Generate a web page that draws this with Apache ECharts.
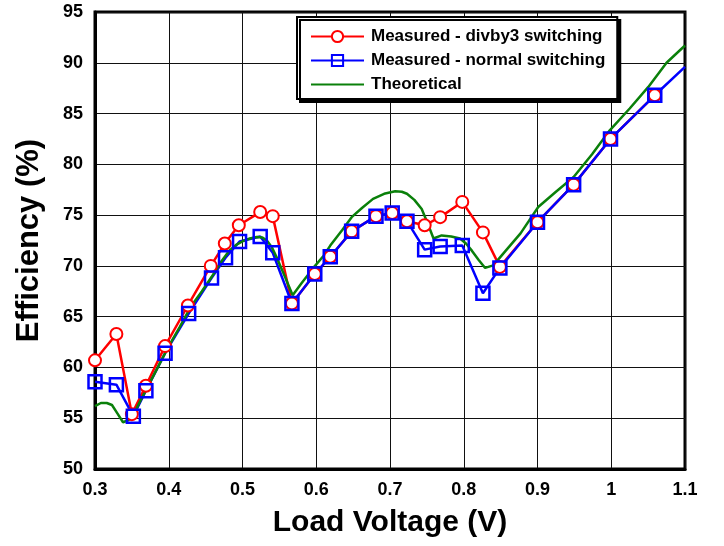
<!DOCTYPE html>
<html>
<head>
<meta charset="utf-8">
<script src="https://cdn.jsdelivr.net/npm/echarts@6/dist/echarts.min.js"></script>
<style>
  html, body { margin: 0; padding: 0; background: #fff; }
  #chart { width: 724px; height: 546px; }
</style>
</head>
<body>
<div id="chart"></div>
<script>
// Measured - divby3 switching
var xDiv = [0.30, 0.329, 0.350, 0.369, 0.395, 0.426, 0.457, 0.476, 0.495, 0.524, 0.541, 0.567, 0.598, 0.619, 0.648, 0.681, 0.703, 0.723, 0.747, 0.768, 0.798, 0.826, 0.849, 0.900, 0.949, 0.999, 1.059];
var yDiv = [60.7, 63.3, 55.4, 58.2, 62.1, 66.1, 70.0, 72.2, 74.0, 75.3, 74.9, 66.3, 69.2, 70.9, 73.4, 74.9, 75.2, 74.4, 74.0, 74.8, 76.3, 73.3, 69.9, 74.3, 78.0, 82.5, 86.8];

// Measured - normal switching
var xNorm = [0.30, 0.329, 0.352, 0.369, 0.395, 0.427, 0.458, 0.477, 0.496, 0.524, 0.541, 0.567, 0.598, 0.619, 0.648, 0.681, 0.703, 0.723, 0.747, 0.768, 0.798, 0.826, 0.849, 0.900, 0.949, 0.999, 1.059, 1.10];
var yNorm = [58.6, 58.3, 55.2, 57.7, 61.4, 65.3, 68.8, 70.8, 72.4, 72.9, 71.3, 66.3, 69.2, 70.9, 73.4, 74.9, 75.2, 74.4, 71.6, 71.9, 72.0, 67.3, 69.8, 74.3, 78.0, 82.5, 86.8, 89.6];

// Theoretical
var xTh = [0.30, 0.308, 0.316, 0.323, 0.331, 0.338, 0.345, 0.350, 0.36, 0.38, 0.40, 0.415, 0.43, 0.445, 0.458, 0.47, 0.482, 0.492, 0.501, 0.51, 0.519, 0.527, 0.533, 0.540, 0.546, 0.556, 0.568, 0.58, 0.596, 0.61, 0.619, 0.635, 0.648, 0.662, 0.677, 0.692, 0.707, 0.716, 0.723, 0.733, 0.743, 0.751, 0.759, 0.770, 0.783, 0.795, 0.803, 0.811, 0.820, 0.829, 0.840, 0.857, 0.877, 0.901, 0.925, 0.949, 0.974, 0.998, 1.025, 1.05, 1.075, 1.10];
var yTh = [56.2, 56.5, 56.5, 56.3, 55.4, 54.6, 54.8, 55.0, 56.5, 59.3, 62.1, 64.0, 66.0, 67.5, 68.9, 70.3, 71.5, 72.1, 72.45, 72.7, 72.85, 72.8, 72.5, 71.8, 70.9, 69.2, 67.1, 68.3, 69.8, 71.0, 72.0, 73.5, 74.8, 75.7, 76.6, 77.1, 77.35, 77.3, 77.1, 76.5, 75.6, 74.2, 72.7, 73.0, 72.9, 72.7, 72.2, 71.5, 70.6, 69.8, 70.05, 71.5, 73.2, 75.8, 77.3, 78.75, 81.0, 83.35, 85.5, 87.6, 90.0, 91.7];

var names = ['Measured - divby3 switching', 'Measured - normal switching', 'Theoretical'];

function pairs(xs, ys) {
    return xs.map(function (x, i) { return [x, ys[i]]; });
}

var normData = pairs(xNorm, yNorm);
// last point sits on the plot edge, drawn as line only
normData[normData.length - 1] = { value: normData[normData.length - 1], symbol: 'none' };

var chart = echarts.init(document.getElementById('chart'));

var font = '"Liberation Sans", Arial, sans-serif';

var option = {
    animation: false,
    textStyle: { fontFamily: font },
    grid: {
        left: 95,
        right: 39,
        top: 12,
        bottom: 77,
        show: true,
        borderColor: '#000',
        borderWidth: 3
    },
    legend: {
        orient: 'vertical',
        left: 297,
        top: 17,
        padding: [11, 12, 6, 13],
        itemWidth: 53,
        itemHeight: 14,
        itemGap: 7,
        backgroundColor: '#fff',
        borderColor: '#000',
        borderWidth: 2,
        borderRadius: 0,
        shadowColor: '#000',
        shadowBlur: 0,
        shadowOffsetX: 3,
        shadowOffsetY: 3,
        textStyle: { fontFamily: font, fontWeight: 'bold', fontSize: 17, color: '#000', padding: [0, 0, 0, 2] },
        data: [
            { name: names[0] },
            { name: names[1] },
            { name: names[2], itemStyle: { opacity: 0 } }
        ]
    },
    xAxis: {
        type: 'value',
        min: 0.3,
        max: 1.1,
        interval: 0.1,
        name: 'Load Voltage (V)',
        nameLocation: 'middle',
        nameGap: 39,
        nameTextStyle: { fontFamily: font, fontWeight: 'bold', fontSize: 30, color: '#000' },
        axisLine: { show: true, lineStyle: { color: '#000', width: 3 } },
        axisTick: { show: false },
        axisLabel: { fontFamily: font, fontWeight: 'bold', fontSize: 18, color: '#000', margin: 12 },
        splitLine: { show: true, lineStyle: { color: '#111', width: 1 } }
    },
    yAxis: {
        type: 'value',
        min: 50,
        max: 95,
        interval: 5,
        name: 'Efficiency (%)',
        nameLocation: 'middle',
        nameGap: 50,
        nameTextStyle: { fontFamily: font, fontWeight: 'bold', fontSize: 31, color: '#000' },
        axisLine: { show: true, lineStyle: { color: '#000', width: 3 } },
        axisTick: { show: false },
        axisLabel: { fontFamily: font, fontWeight: 'bold', fontSize: 18, color: '#000', margin: 12 },
        splitLine: { show: true, lineStyle: { color: '#111', width: 1 } }
    },
    series: [{
        name: names[0],
        type: 'line',
        data: pairs(xDiv, yDiv),
        symbol: 'circle',
        symbolSize: 12,
        color: '#ff0000',
        lineStyle: { color: '#ff0000', width: 2.5 },
        itemStyle: { color: '#fff', borderColor: '#ff0000', borderWidth: 2 }
    }, {
        name: names[1],
        type: 'line',
        data: normData,
        symbol: 'rect',
        symbolSize: 13,
        color: '#0000ff',
        lineStyle: { color: '#0000ff', width: 2.5 },
        itemStyle: { color: 'rgba(255,255,255,0)', borderColor: '#0000ff', borderWidth: 2.5 }
    }, {
        name: names[2],
        type: 'line',
        data: pairs(xTh, yTh),
        symbol: 'none',
        color: '#0a800a',
        lineStyle: { color: '#0a800a', width: 2.5 }
    }]
};

option && chart.setOption(option);
window.addEventListener('resize', chart.resize);
</script>
</body>
</html>
